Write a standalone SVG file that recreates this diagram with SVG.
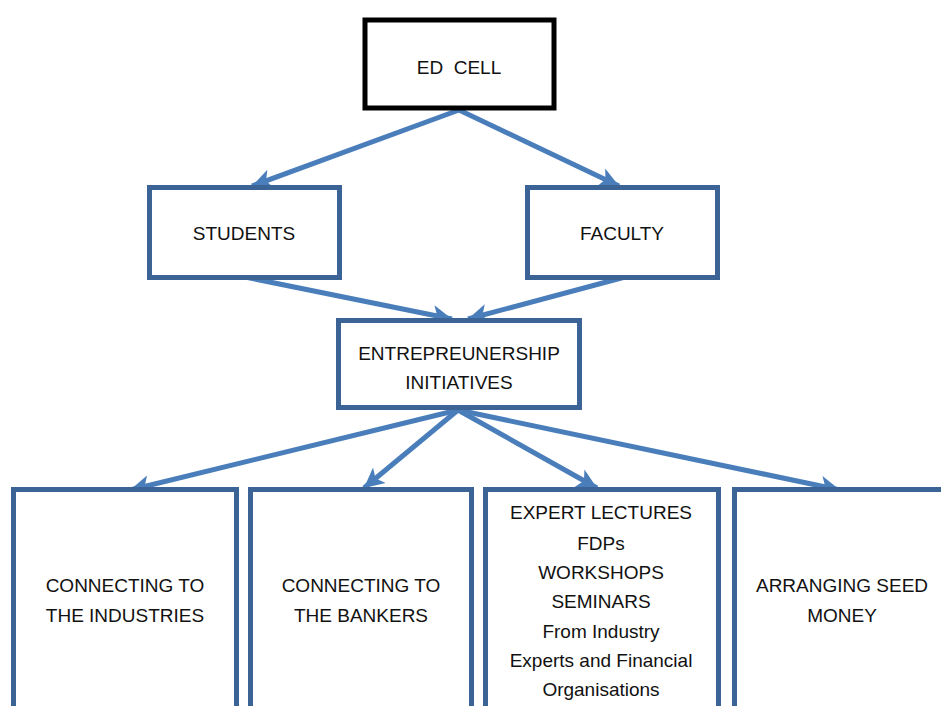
<svg xmlns="http://www.w3.org/2000/svg" width="941" height="706" viewBox="0 0 941 706">
<style>
.box{fill:#fff;stroke:#3b6395;stroke-width:5}
.blk{fill:#fff;stroke:#000;stroke-width:5}
.t{font-family:"Liberation Sans",Arial,sans-serif;font-size:19px;fill:#111;text-anchor:middle}
.c{stroke:#4a7ebb;stroke-width:5;fill:none}
</style>
<defs>
<marker id="ah" markerUnits="userSpaceOnUse" markerWidth="22" markerHeight="22" refX="20" refY="10" orient="auto" viewBox="0 0 22 20">
<path d="M0,0 L20,10 L0,20 L5,10 Z" fill="#4a7ebb"/>
</marker>
</defs>
<g id="connectors">
<line class="c" x1="459" y1="110" x2="252" y2="186" marker-end="url(#ah)"/>
<line class="c" x1="459" y1="110" x2="619" y2="186" marker-end="url(#ah)"/>
<line class="c" x1="245" y1="277" x2="452" y2="319" marker-end="url(#ah)"/>
<line class="c" x1="625" y1="277" x2="468" y2="319" marker-end="url(#ah)"/>
<line class="c" x1="458" y1="410" x2="130" y2="490" marker-end="url(#ah)"/>
<line class="c" x1="458" y1="410" x2="364" y2="488" marker-end="url(#ah)"/>
<line class="c" x1="458" y1="410" x2="597" y2="488" marker-end="url(#ah)"/>
<line class="c" x1="458" y1="410" x2="840" y2="490" marker-end="url(#ah)"/>
</g>
<g id="edcell">
<rect class="blk" x="365" y="20" width="189" height="88"/>
<text class="t" x="459" y="74" xml:space="preserve">ED  CELL</text>
</g>
<g id="students">
<rect class="box" x="149.5" y="187.5" width="190" height="90"/>
<text class="t" x="244" y="240">STUDENTS</text>
</g>
<g id="faculty">
<rect class="box" x="527.5" y="187.5" width="190" height="90"/>
<text class="t" x="622" y="240">FACULTY</text>
</g>
<g id="initiatives">
<rect class="box" x="338.5" y="320.5" width="241" height="87"/>
<text class="t" x="459" y="360">ENTREPREUNERSHIP</text>
<text class="t" x="459" y="389">INITIATIVES</text>
</g>
<g id="industries">
<rect class="box" x="13.5" y="489.5" width="223" height="230"/>
<text class="t" x="125" y="592">CONNECTING TO</text>
<text class="t" x="125" y="622">THE INDUSTRIES</text>
</g>
<g id="bankers">
<rect class="box" x="250.5" y="489.5" width="221" height="230"/>
<text class="t" x="361" y="592">CONNECTING TO</text>
<text class="t" x="361" y="622">THE BANKERS</text>
</g>
<g id="lectures">
<rect class="box" x="485.5" y="489.5" width="233" height="230"/>
<text class="t" x="601" y="519">EXPERT LECTURES</text>
<text class="t" x="601" y="550">FDPs</text>
<text class="t" x="601" y="579">WORKSHOPS</text>
<text class="t" x="601" y="608">SEMINARS</text>
<text class="t" x="601" y="638">From Industry</text>
<text class="t" x="601" y="667">Experts and Financial</text>
<text class="t" x="601" y="696">Organisations</text>
</g>
<g id="seedmoney">
<rect class="box" x="734.5" y="489.5" width="230" height="230"/>
<text class="t" x="842" y="592">ARRANGING SEED</text>
<text class="t" x="842" y="622">MONEY</text>
</g>
</svg>
